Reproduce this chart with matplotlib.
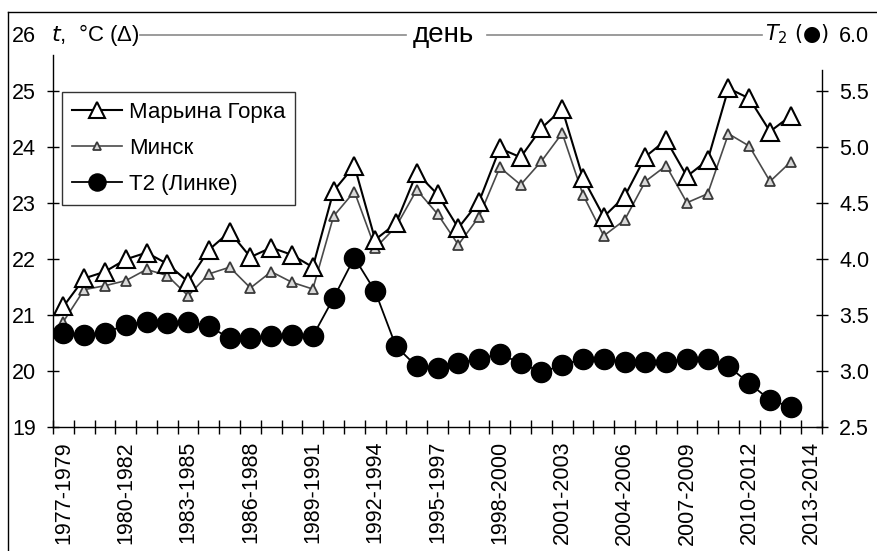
import matplotlib
matplotlib.use("Agg")
import matplotlib.pyplot as plt
import numpy as np
from matplotlib.lines import Line2D

plt.rcParams['font.family'] = ['Liberation Sans', 'DejaVu Sans']

categories = ["1977-1979", "1978-1980", "1979-1981", "1980-1982", "1981-1983", "1982-1984",
              "1983-1985", "1984-1986", "1985-1987", "1986-1988", "1987-1989", "1988-1990",
              "1989-1991", "1990-1992", "1991-1993", "1992-1994", "1993-1995", "1994-1996",
              "1995-1997", "1996-1998", "1997-1999", "1998-2000", "1999-2001", "2000-2002",
              "2001-2003", "2002-2004", "2003-2005", "2004-2006", "2005-2007", "2006-2008",
              "2007-2009", "2008-2010", "2009-2011", "2010-2012", "2011-2013", "2012-2014",
              "2013-2014"]

marina_gorka = [21.15, 21.65, 21.77, 21.99, 22.11, 21.91, 21.59, 22.16, 22.48, 22.03,
                22.20, 22.07, 21.85, 23.21, 23.66, 22.34, 22.63, 23.53, 23.15, 22.55,
                23.02, 23.97, 23.81, 24.33, 24.67, 23.44, 22.75, 23.11, 23.82, 24.12,
                23.47, 23.76, 25.04, 24.86, 24.27, 24.55]
minsk = [20.88, 21.45, 21.52, 21.61, 21.81, 21.70, 21.34, 21.73, 21.85, 21.48,
         21.77, 21.58, 21.46, 22.76, 23.20, 22.19, 22.57, 23.23, 22.80, 22.25,
         22.75, 23.63, 23.32, 23.74, 24.24, 23.14, 22.41, 22.69, 23.38, 23.66,
         23.00, 23.16, 24.23, 24.01, 23.38, 23.73]
t2_linke = [3.34, 3.32, 3.34, 3.41, 3.44, 3.43, 3.44, 3.40, 3.29, 3.29,
            3.31, 3.32, 3.31, 3.65, 4.01, 3.71, 3.22, 3.04, 3.03, 3.07,
            3.11, 3.15, 3.07, 2.99, 3.05, 3.11, 3.11, 3.08, 3.08, 3.08,
            3.11, 3.11, 3.04, 2.89, 2.74, 2.68]

left_ticks = [19, 20, 21, 22, 23, 24, 25, 26]
right_ticks = [2.5, 3.0, 3.5, 4.0, 4.5, 5.0, 5.5, 6.0]

FS = 15.5
W, H = 877, 551
fig = plt.figure(figsize=(W / 100, H / 100), dpi=100)
ax = fig.add_axes([53 / W, (H - 427) / H, (822 - 53) / W, (427 - 34.5) / H])
ax2 = ax.twinx()

x = np.arange(len(marina_gorka))
xm = np.arange(len(minsk))
xt = np.arange(len(t2_linke))

l1, = ax.plot(x, marina_gorka, color='black', lw=1.5, marker='^', ms=13,
              mfc='white', mec='black', mew=1.5, zorder=4)
l2, = ax.plot(xm, minsk, color='#4a4a4a', lw=1.2, marker='^', ms=7.5,
              mfc='#d9d9d9', mec='#3a3a3a', mew=1.3, zorder=3)
l3, = ax2.plot(xt, t2_linke, color='black', lw=1.3, marker='o', ms=14.5,
               mfc='black', mec='black', zorder=3)

n = len(categories)
ax.set_xlim(-0.5, n - 0.5)
ax.set_ylim(left_ticks[0], left_ticks[-1])
ax2.set_ylim(right_ticks[0], right_ticks[-1])

ax.set_xticks(np.arange(0, n, 3))
ax.set_xticklabels([categories[i] for i in range(0, n, 3)], rotation=90, fontsize=FS)
ax.set_xticks(np.arange(-0.5, n, 1.0), minor=True)
ax.tick_params(axis='x', which='major', length=0, pad=10)
ax.tick_params(axis='x', which='minor', direction='inout', length=10, width=1.0)

ax.set_yticks(left_ticks)
ax.set_yticklabels([str(v) for v in left_ticks], fontsize=FS)
ax.tick_params(axis='y', direction='inout', length=9, width=1.0, pad=8)
ax2.set_yticks(right_ticks)
ax2.set_yticklabels([f"{v:.1f}" for v in right_ticks], fontsize=FS)
ax2.tick_params(axis='y', direction='inout', length=9, width=1.0, pad=8)
ax.yaxis.get_major_ticks()[-1].tick1line.set_visible(False)
ax2.yaxis.get_major_ticks()[-1].tick2line.set_visible(False)

for a in (ax, ax2):
    a.spines['top'].set_visible(False)
    a.patch.set_visible(False)
ax.spines['right'].set_visible(False)
ax2.spines['left'].set_visible(False)
ax2.spines['bottom'].set_visible(False)
ax.spines['left'].set_bounds(19, 25.63)
ax2.spines['right'].set_bounds(2.5, 5.68)
for s in ('left', 'bottom'):
    ax.spines[s].set_linewidth(1.0)
ax2.spines['right'].set_linewidth(1.0)

# header line
ax.text(-0.002, 1.0, r"$t$,  °C (Δ)", transform=ax.transAxes, fontsize=16,
        ha='left', va='center')
ax.text(0.507, 1.0, "день", transform=ax.transAxes, fontsize=20,
        ha='center', va='center')
ax.text(0.926, 1.0, r"$T_2$ (●)", transform=ax.transAxes, fontsize=15,
        ha='left', va='center', family=['DejaVu Sans'])
ax.plot([0.113, 0.459], [1.0, 1.0], transform=ax.transAxes, color='#8a8a8a',
        lw=1.2, clip_on=False)
ax.plot([0.565, 0.922], [1.0, 1.0], transform=ax.transAxes, color='#8a8a8a',
        lw=1.2, clip_on=False)

# outer frame (partially visible)
fig.add_artist(Line2D([8 / W, 8 / W], [0, 1 - 12 / H], color='black', lw=1.0,
                      transform=fig.transFigure))
fig.add_artist(Line2D([8 / W, 1], [1 - 12 / H, 1 - 12 / H], color='black', lw=1.0,
                      transform=fig.transFigure))

leg = ax.legend([l1, l2, l3], ["Марьина Горка", "Минск", "Т2 (Линке)"],
                loc='upper left', bbox_to_anchor=(0.0117, 0.8535), borderaxespad=0,
                fontsize=16, frameon=True, fancybox=False, edgecolor='black',
                handlelength=2.25, handletextpad=0.3, labelspacing=0.68,
                borderpad=0.45, markerscale=0.85)
leg.get_frame().set_linewidth(1.0)
leg.set_zorder(10)

fig.savefig("out.png", dpi=100)
